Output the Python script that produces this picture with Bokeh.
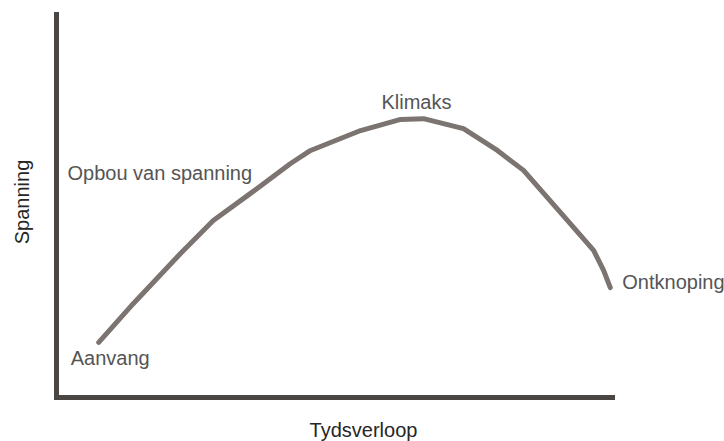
import math
from bokeh.plotting import figure
from bokeh.models import Label, Range1d
from bokeh.embed import file_html
from bokeh.resources import INLINE

# Data: time progression (x) vs. tension (y), values on a 0-100 scale
time = [7.6, 13.8, 22.3, 28.2, 34.9, 42.1, 45.7, 54.7, 61.9, 66.0, 73.2,
        79.3, 84.0, 88.3, 92.4, 96.6, 98.4, 99.6]
tension = [14.4, 24.5, 37.6, 46.2, 53.3, 61.1, 64.5, 69.7, 72.6, 72.8, 70.2,
           64.5, 59.3, 52.2, 45.4, 38.4, 33.2, 28.7]

stage_labels = ["Aanvang", "Opbou van spanning", "Klimaks", "Ontknoping"]
x_title = "Tydsverloop"
y_title = "Spanning"

# axis extents (data scale)
x_min, x_max = 0, 100
y_min, y_max = 0, 100

FONT = "Liberation Sans"
FS = "20px"
LABEL_COLOR = "#555555"
TITLE_COLOR = "#262626"
AXIS_COLOR = "#4a4643"
CURVE_COLOR = "#7b7470"

W, H = 724, 441
left, right, top, bottom = 56, 112, 14, 44   # px margins around axis box
ux = (x_max - x_min) / (W - left - right)
uy = (y_max - y_min) / (H - top - bottom)

p = figure(width=W, height=H, output_backend="svg", toolbar_location=None,
           x_range=Range1d(x_min - left * ux, x_max + right * ux),
           y_range=Range1d(y_min - bottom * uy, y_max + top * uy),
           x_axis_location=None, y_axis_location=None,
           min_border=0)
p.outline_line_color = None
p.grid.visible = False
p.background_fill_color = "white"
p.border_fill_color = "white"

# axes drawn as thick lines
p.segment(x0=[x_min, x_min], y0=[y_min, y_min], x1=[x_min, x_max], y1=[y_max, y_min],
          line_color=AXIS_COLOR, line_width=5, line_cap="square")

p.line(time, tension, line_color=CURVE_COLOR, line_width=5,
       line_cap="round", line_join="round")

peak = max(range(len(tension)), key=lambda i: tension[i])

def add_label(text, x, y, xo, yo, align="left", angle=0.0, color=LABEL_COLOR):
    p.add_layout(Label(x=x, y=y, x_offset=xo, y_offset=yo, text=text,
                       text_font=FONT, text_font_size=FS, text_color=color,
                       text_align=align, text_baseline="alphabetic",
                       angle=angle))

add_label(stage_labels[0], time[0], tension[0], -28, -16)
add_label(stage_labels[1], x_min, tension[4], 11, 20)
add_label(stage_labels[2], time[peak], tension[peak], -7, 17, align="center")
add_label(stage_labels[3], time[-1], tension[-1], 12, 6)
add_label(x_title, (x_min + x_max) / 2, y_min, 29, -32, align="center", color=TITLE_COLOR)
add_label(y_title, x_min, (y_min + y_max) / 2, -35, 4, align="center",
          angle=math.pi / 2, color=TITLE_COLOR)

open("out.html", "w").write(file_html(p, INLINE))
